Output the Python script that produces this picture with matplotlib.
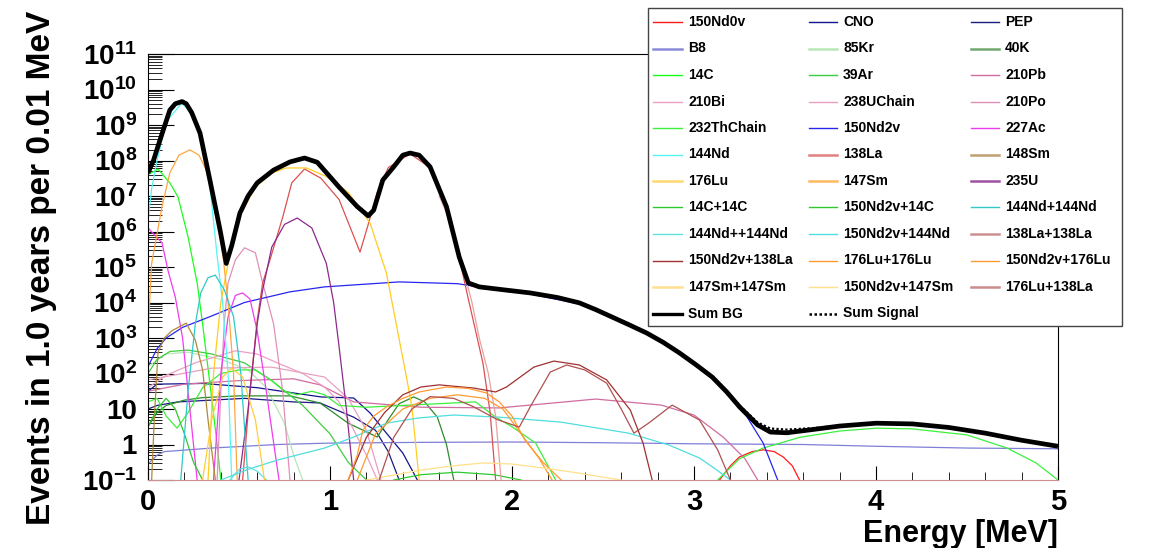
import numpy as np
import matplotlib
matplotlib.use("Agg")
import matplotlib.pyplot as plt
from matplotlib.lines import Line2D
from matplotlib.patches import Rectangle
from matplotlib.ticker import FixedLocator, FixedFormatter, LogLocator, NullFormatter, MultipleLocator

plt.rcParams['font.family'] = ['Liberation Sans', 'DejaVu Sans']
plt.rcParams['font.weight'] = 'bold'
plt.rcParams['mathtext.fontset'] = 'custom'
plt.rcParams['mathtext.rm'] = 'Liberation Sans:bold'
plt.rcParams['mathtext.it'] = 'Liberation Sans:bold'
plt.rcParams['mathtext.bf'] = 'Liberation Sans:bold'

# (energy [MeV], log10 events per 0.01 MeV)
nd0v = [(3.14, -1), (3.20, -0.6), (3.25, -0.35), (3.32, -0.2), (3.38, -0.15), (3.44, -0.2),
        (3.49, -0.35), (3.54, -0.6), (3.58, -1)]
cno = [(0.0, 1.5), (0.05, 1.7), (0.3, 1.72), (0.6, 1.6), (0.95, 1.34), (1.13, 1.31), (1.22, 0.89),
       (1.31, 0.32), (1.40, -0.24), (1.48, -1)]
pep = [(0.0, 1.0), (0.05, 1.1), (0.165, 1.2), (0.53, 1.3), (0.8, 1.2), (0.945, 1.17), (1.13, 0.77),
       (1.25, 0.4), (1.32, -0.2), (1.38, -1)]
b8 = [(0.0, -0.55), (0.05, -0.3), (0.09, -0.2), (0.35, -0.1), (0.71, 0.0), (1.0, 0.04), (1.5, 0.06),
      (2.0, 0.07), (2.5, 0.05), (3.0, 0.02), (3.6, 0.0), (4.0, -0.05), (4.5, -0.1), (5.0, -0.12)]
kr85 = [(0.0, 2.2), (0.1, 2.55), (0.22, 2.6), (0.4, 2.4), (0.55, 2.1), (0.65, 1.6), (0.75, 0.6),
        (0.8, -0.3), (0.85, -1)]
k40 = [(0.0, 0.5), (0.05, 0.9), (0.1, 1.1), (0.2, 1.25), (0.3, 1.32), (0.5, 1.37), (0.78, 1.37),
       (0.945, 1.17), (1.1, 0.6), (1.26, 0.21), (1.32, 0.7), (1.38, 1.15), (1.46, 1.34), (1.52, 1.2),
       (1.59, 0.77), (1.64, 0.0), (1.68, -1)]
c14 = [(0.0, 7.6), (0.055, 7.76), (0.12, 7.37), (0.165, 6.97), (0.22, 5.85), (0.27, 4.55),
       (0.30, 3.4), (0.35, 1.3), (0.38, 0.0), (0.40, -1)]
ar39 = [(0.0, 2.0), (0.05, 2.4), (0.12, 2.62), (0.22, 2.66), (0.35, 2.55), (0.53, 2.3), (0.68, 1.8),
        (0.85, 1.1), (1.0, 0.3), (1.1, -0.5), (1.2, -1)]
pb210 = [(0.0, 1.5), (0.2, 1.7), (0.5, 1.8), (0.8, 1.85), (0.945, 1.68), (1.13, 1.2), (1.5, 1.05),
         (1.93, 1.03), (2.46, 1.28), (2.82, 1.11), (3.0, 0.83), (3.16, 0.21), (3.28, -0.4), (3.35, -1)]
bi210 = [(0.0, 1.6), (0.1, 1.95), (0.26, 2.3), (0.48, 2.64), (0.6, 2.55), (0.71, 2.3), (0.85, 2.0),
         (0.97, 1.62), (1.05, 1.2), (1.13, 0.41), (1.2, -0.3), (1.26, -1)]
u238 = [(0.0, 1.82), (0.35, 2.15), (0.68, 2.18), (0.97, 1.9), (1.1, 1.3), (1.2, 0.4), (1.28, -1)]
po210 = [(0.38, -1), (0.40, 1.5), (0.42, 3.5), (0.44, 4.55), (0.48, 5.2), (0.53, 5.54), (0.59, 5.4),
         (0.63, 4.55), (0.69, 3.4), (0.74, 1.5), (0.78, -1)]
th232 = [(0.0, 1.2), (0.05, 1.3), (0.10, 0.8), (0.16, 0.46), (0.22, 0.9), (0.30, 1.6), (0.40, 2.0),
         (0.50, 2.1), (0.59, 2.1), (0.68, 1.8), (0.75, 1.5), (0.82, 1.4), (0.9, 1.5), (0.97, 1.4),
         (1.05, 1.1), (1.2, 1.05), (1.4, 1.1), (1.6, 1.15), (1.8, 1.2), (1.91, 0.77), (2.0, 0.5),
         (2.13, 0.04), (2.24, -1), (2.6, -3), (3.0, -3), (3.13, -1), (3.25, -0.4), (3.38, -0.1),
         (3.58, 0.2), (3.8, 0.38), (4.0, 0.46), (4.2, 0.44), (4.5, 0.27), (4.72, -0.1), (4.88, -0.52),
         (5.0, -1)]
nd2v = [(0.0, 2.2), (0.05, 2.7), (0.1, 3.0), (0.19, 3.3), (0.34, 3.6), (0.53, 4.0), (0.78, 4.3),
        (0.97, 4.44), (1.38, 4.58), (1.70, 4.53), (2.0, 4.3), (2.10, 4.24), (2.37, 3.96),
        (2.55, 3.57), (2.74, 3.12), (2.92, 2.56), (3.10, 1.88), (3.25, 1.12), (3.38, 0.04), (3.46, -1)]
ac227 = [(0.0, 6.1), (0.077, 5.68), (0.11, 4.9), (0.15, 4.15), (0.19, 3.0), (0.22, 1.5), (0.25, 0.0),
         (0.27, -1), (0.31, -3), (0.36, -1), (0.40, 2.0), (0.44, 3.6), (0.48, 4.2), (0.52, 4.27),
         (0.56, 4.1), (0.60, 3.2), (0.65, 1.5), (0.70, -0.3), (0.72, -1)]
nd144 = [(0.0, 6.3), (0.02, 7.2), (0.05, 8.0), (0.10, 9.1), (0.187, 9.62), (0.24, 9.3), (0.29, 8.6),
         (0.34, 7.3), (0.38, 5.3), (0.41, 4.0), (0.44, 2.0), (0.46, -1)]
la138 = [(0.52, -1), (0.56, 1.5), (0.60, 3.5), (0.63, 4.55), (0.67, 5.2), (0.74, 6.4), (0.79, 7.37),
         (0.86, 7.76), (0.95, 7.5), (1.05, 6.9), (1.12, 6.0), (1.165, 5.42), (1.21, 6.2), (1.26, 7.1),
         (1.32, 7.8), (1.44, 8.19), (1.55, 7.8), (1.64, 6.68), (1.71, 5.25), (1.76, 4.1), (1.80, 3.2),
         (1.84, 2.3), (1.88, 0.9), (1.91, -1)]
sm148 = [(0.02, -1), (0.035, 0.76), (0.055, 2.6), (0.09, 3.0), (0.13, 3.2), (0.21, 3.42), (0.26, 2.94),
         (0.30, 2.1), (0.33, 0.69), (0.37, -1)]
lu176 = [(0.33, -1), (0.36, 2.0), (0.40, 4.0), (0.44, 5.1), (0.50, 6.4), (0.59, 7.25), (0.68, 7.65),
         (0.76, 7.79), (0.87, 7.79), (0.98, 7.55), (1.10, 7.1), (1.22, 6.24), (1.31, 4.83), (1.36, 3.5),
         (1.42, 1.9), (1.45, 1.06), (1.49, -1)]
sm147 = [(0.0, 3.1), (0.02, 5.1), (0.077, 6.7), (0.12, 7.65), (0.17, 8.15), (0.23, 8.3), (0.28, 8.15),
         (0.32, 7.73), (0.38, 6.4), (0.41, 5.4), (0.44, 4.0), (0.47, 2.0), (0.49, -1)]
u235 = [(0.50, -1), (0.55, 1.0), (0.60, 3.4), (0.63, 4.35), (0.68, 5.56), (0.75, 6.2), (0.82, 6.38),
        (0.90, 6.1), (0.98, 5.1), (1.02, 4.0), (1.05, 2.75), (1.09, 1.0), (1.13, -1)]
c14_c14 = [(0.0, 0.5), (0.05, 1.0), (0.1, 1.3), (0.15, 1.0), (0.2, 0.3), (0.25, -0.5), (0.3, -1)]
nd2v_c14 = [(1.35, -1), (1.5, -0.85), (1.7, -0.78), (1.9, -0.85), (2.05, -1)]
nd144_nd144 = [(0.18, -1), (0.22, 1.5), (0.26, 3.4), (0.29, 4.27), (0.33, 4.7), (0.37, 4.77),
               (0.42, 4.35), (0.47, 3.6), (0.51, 2.0), (0.55, -1)]
nd144_pp = [(0.45, -1), (0.5, -0.7), (0.55, -0.63), (0.6, -0.75), (0.65, -1)]
nd2v_nd144 = [(0.40, -1), (0.55, -0.7), (0.71, -0.44), (0.97, -0.1), (1.13, 0.21), (1.31, 0.6),
              (1.49, 0.75), (1.68, 0.83), (1.93, 0.77), (2.27, 0.63), (2.64, 0.32), (2.86, -0.01),
              (3.03, -0.38), (3.12, -0.7), (3.2, -1)]
la138_la138 = [(1.60, 7.0), (1.66, 6.3), (1.72, 5.2), (1.78, 4.0), (1.82, 3.0), (1.87, 2.0),
               (1.91, 0.8), (1.94, -1)]
nd2v_la138 = [(1.10, -1), (1.20, 0.2), (1.30, 0.9), (1.40, 1.4), (1.50, 1.62), (1.60, 1.68),
              (1.79, 1.59), (1.91, 1.48), (1.97, 1.62), (2.12, 2.18), (2.23, 2.35), (2.37, 2.24),
              (2.52, 1.82), (2.65, 0.97), (2.72, 0.04), (2.77, -1)]
lu176_lu176 = [(1.10, -1), (1.15, -0.3), (1.18, 0.4), (1.24, 0.8), (1.31, 1.06), (1.40, 1.3),
               (1.49, 1.48), (1.64, 1.62), (1.76, 1.58), (1.86, 1.45), (1.93, 1.2), (2.0, 0.8),
               (2.07, 0.13), (2.17, -0.5), (2.27, -1)]
nd2v_lu176 = [(1.15, -1), (1.25, 0.3), (1.4, 1.0), (1.55, 1.3), (1.7, 1.4), (1.85, 1.3), (1.95, 1.0),
              (2.05, 0.3), (2.15, -0.4), (2.22, -1)]
sm147_sm147 = [(0.30, -1), (0.35, 0.69), (0.41, 1.9), (0.46, 2.15), (0.52, 1.9), (0.59, 0.69), (0.64, -1)]
nd2v_sm147 = [(1.2, -1), (1.31, -0.9), (1.5, -0.72), (1.68, -0.6), (1.84, -0.52), (2.0, -0.55),
              (2.2, -0.68), (2.36, -0.8), (2.5, -0.92), (2.6, -1)]
lu176_la138 = [(1.27, -1), (1.35, 0.2), (1.45, 1.0), (1.55, 1.35), (1.68, 1.3), (1.79, 1.06),
               (1.92, 0.7), (2.04, 0.49), (2.10, 1.06), (2.21, 2.04), (2.30, 2.24), (2.40, 2.1),
               (2.52, 1.73), (2.60, 1.0), (2.67, 0.32), (2.75, 0.6), (2.88, 1.11), (3.03, 0.69),
               (3.13, -0.15), (3.2, -1)]
sum_bg = [(0.0, 7.65), (0.03, 8.0), (0.066, 8.58), (0.12, 9.42), (0.15, 9.6), (0.187, 9.66),
          (0.21, 9.6), (0.24, 9.35), (0.286, 8.77), (0.34, 7.45), (0.396, 6.04), (0.43, 5.1),
          (0.46, 5.6), (0.505, 6.52), (0.55, 7.0), (0.60, 7.37), (0.69, 7.73), (0.78, 7.96),
          (0.86, 8.07), (0.93, 7.95), (1.05, 7.25), (1.15, 6.7), (1.21, 6.44), (1.24, 6.6),
          (1.29, 7.45), (1.35, 7.82), (1.40, 8.15), (1.44, 8.21), (1.49, 8.15), (1.55, 7.82),
          (1.64, 6.7), (1.71, 5.28), (1.76, 4.55), (1.82, 4.44), (1.95, 4.36), (2.10, 4.27),
          (2.25, 4.14), (2.37, 3.99), (2.46, 3.8), (2.55, 3.59), (2.64, 3.38), (2.74, 3.14),
          (2.83, 2.88), (2.92, 2.58), (3.01, 2.25), (3.10, 1.9), (3.18, 1.48), (3.25, 1.06),
          (3.35, 0.55), (3.42, 0.35), (3.51, 0.33), (3.65, 0.42), (3.80, 0.52), (4.0, 0.6),
          (4.2, 0.58), (4.4, 0.48), (4.6, 0.32), (4.8, 0.12), (5.0, -0.05)]
sum_signal = [(3.10, 1.9), (3.18, 1.5), (3.25, 1.1), (3.35, 0.62), (3.42, 0.45), (3.51, 0.42),
              (3.65, 0.46), (3.80, 0.53), (4.0, 0.6), (4.2, 0.58), (4.4, 0.48), (4.6, 0.32),
              (4.8, 0.12), (5.0, -0.05)]

ytick_labels = [r'$10^{-1}$', '1', '10', r'$10^{2}$', r'$10^{3}$', r'$10^{4}$', r'$10^{5}$',
                r'$10^{6}$', r'$10^{7}$', r'$10^{8}$', r'$10^{9}$', r'$10^{10}$', r'$10^{11}$']

# legend order (row by row) with colours
series = [
    ('150Nd0v', nd0v, '#ff1a1a'), ('CNO', cno, '#14148c'), ('PEP', pep, '#1a1a80'),
    ('B8', b8, '#7f7fd8'), ('85Kr', kr85, '#b5e6b5'), ('40K', k40, '#2f8a2f'),
    ('14C', c14, '#1aff1a'), ('39Ar', ar39, '#40cc40'), ('210Pb', pb210, '#d06ca0'),
    ('210Bi', bi210, '#eaa0c4'), ('238UChain', u238, '#e6a0c0'), ('210Po', po210, '#e090b8'),
    ('232ThChain', th232, '#3cf03c'), ('150Nd2v', nd2v, '#2626f0'), ('227Ac', ac227, '#f03cf0'),
    ('144Nd', nd144, '#55f5f5'), ('138La', la138, '#dc5050'), ('148Sm', sm148, '#b08838'),
    ('176Lu', lu176, '#ffcc22'), ('147Sm', sm147, '#ffa640'), ('235U', u235, '#8c2a8c'),
    ('14C+14C', c14_c14, '#30c830'), ('150Nd2v+14C', nd2v_c14, '#30c830'), ('144Nd+144Nd', nd144_nd144, '#30c8c8'),
    ('144Nd++144Nd', nd144_pp, '#60e0e0'), ('150Nd2v+144Nd', nd2v_nd144, '#50dede'), ('138La+138La', la138_la138, '#e8a0a0'),
    ('150Nd2v+138La', nd2v_la138, '#a03030'), ('176Lu+176Lu', lu176_lu176, '#ff9a30'), ('150Nd2v+176Lu', nd2v_lu176, '#ff9a30'),
    ('147Sm+147Sm', sm147_sm147, '#ffcc40'), ('150Nd2v+147Sm', nd2v_sm147, '#ffe08a'), ('176Lu+138La', lu176_la138, '#b05050'),
]
legend_colors = {'B8': '#8a8ad8', '85Kr': '#b8e8b8', '40K': '#70a870', '138La': '#e08080',
                 '148Sm': '#c0a070', '176Lu': '#ffd870', '147Sm': '#ffb860', '235U': '#a050a0',
                 '147Sm+147Sm': '#ffe090', '176Lu+138La': '#cc8c8c', '138La+138La': '#cc9090'}

fig = plt.figure(figsize=(11.53, 5.48), dpi=100)
ax = fig.add_axes([148 / 1153, 68 / 548, 910 / 1153, 426 / 548])

for name, pts, col in series:
    arr = np.array(pts)
    ax.plot(arr[:, 0], 10 ** arr[:, 1], color=col, lw=0.9)

bg = np.array(sum_bg)
ax.plot(bg[:, 0], 10 ** bg[:, 1], color='black', lw=3.4, zorder=5,
        solid_joinstyle='round', solid_capstyle='butt')
sg = np.array(sum_signal)
ax.plot(sg[:, 0], 10 ** sg[:, 1], color='black', lw=1.6, ls=(0, (1, 1)), zorder=6)

ax.set_yscale('log')
ax.set_xlim(0, 5)
ax.set_ylim(1e-1, 1e11)

ax.yaxis.set_major_locator(FixedLocator([10.0 ** k for k in range(-1, 12)]))
ax.yaxis.set_major_formatter(FixedFormatter(ytick_labels))
ax.yaxis.set_minor_locator(LogLocator(base=10, subs=np.arange(2, 10), numticks=100))
ax.yaxis.set_minor_formatter(NullFormatter())
ax.xaxis.set_major_locator(MultipleLocator(1))
ax.xaxis.set_minor_locator(MultipleLocator(0.2))

ax.tick_params(axis='y', which='major', direction='in', length=19, width=0.8, labelsize=20, pad=8)
ax.tick_params(axis='y', which='minor', direction='in', length=10, width=0.6)
ax.tick_params(axis='x', which='major', direction='in', length=10, width=0.8, labelsize=21, pad=6)
ax.tick_params(axis='x', which='minor', direction='in', length=6, width=0.6)
for lab in ax.get_xticklabels() + ax.get_yticklabels():
    lab.set_fontweight('bold')

for s in ax.spines.values():
    s.set_linewidth(0.8)
ax.spines['bottom'].set_color('#cc9090')

ax.set_xlabel('Energy [MeV]', fontsize=22, fontweight='bold', loc='right', labelpad=2)
fig.text(42 / 1153, 1 - 268 / 548, 'Events in 1.0 years per 0.01 MeV', rotation=90, fontsize=24,
         fontweight='bold', ha='center', va='center')

# legend box drawn in pixel coordinates of the figure
W, H = 1153.0, 548.0
fig.add_artist(Rectangle((648 / W, 1 - 326 / H), 474 / W, 318 / H, transform=fig.transFigure,
                         facecolor='white', edgecolor='#444444', lw=1.0, zorder=10))
col_line_x = [(653, 682), (809, 837), (971, 999)]
col_text_x = [688, 843, 1005]
entries = [(n, legend_colors.get(n, c), 1.0, '-') for n, _, c in series]
entries += [('Sum BG', 'black', 2.4, '-'), ('Sum Signal', 'black', 1.8, (0, (1, 1)))]
for i, (name, col, lw, ls) in enumerate(entries):
    r, c = divmod(i, 3)
    y = 1 - (22 + 26.5 * r) / H
    x0, x1 = col_line_x[c]
    fig.add_artist(Line2D([x0 / W, x1 / W], [y, y], transform=fig.transFigure, color=col,
                          lw=lw if name.startswith('Sum') else (1.8 if name in legend_colors else 1.0),
                          ls=ls, zorder=11))
    fig.text(col_text_x[c] / W, y, name, fontsize=10, fontweight='bold', va='center', ha='left', zorder=11)

fig.savefig('out.png', dpi=100)
